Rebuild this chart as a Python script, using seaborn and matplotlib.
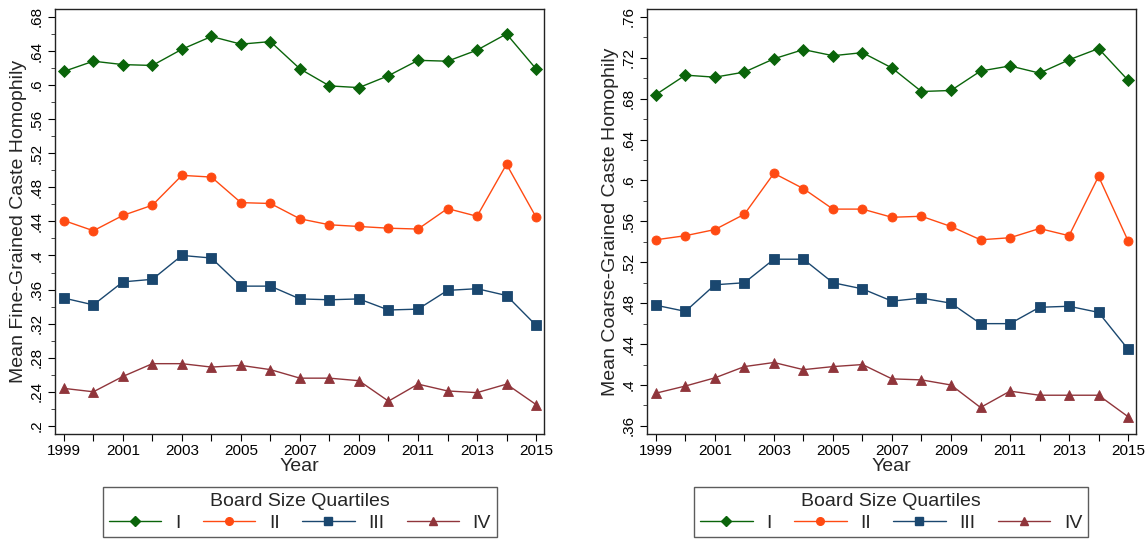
import numpy as np
import pandas as pd
import matplotlib
matplotlib.use("Agg")
import matplotlib.pyplot as plt
from matplotlib.lines import Line2D
from matplotlib.ticker import FuncFormatter, MultipleLocator
import seaborn as sns

years = list(range(1999, 2016))
quartiles = ["I", "II", "III", "IV"]

fine_I = [0.616, 0.628, 0.624, 0.623, 0.642, 0.657, 0.648, 0.651, 0.619,
          0.599, 0.597, 0.611, 0.629, 0.628, 0.641, 0.660, 0.619]
fine_II = [0.441, 0.429, 0.447, 0.459, 0.494, 0.492, 0.462, 0.461, 0.443,
           0.436, 0.434, 0.432, 0.431, 0.455, 0.446, 0.507, 0.445]
fine_III = [0.350, 0.342, 0.369, 0.372, 0.400, 0.397, 0.364, 0.364, 0.349,
            0.348, 0.349, 0.336, 0.337, 0.359, 0.361, 0.353, 0.318]
fine_IV = [0.244, 0.240, 0.258, 0.273, 0.273, 0.269, 0.271, 0.266, 0.256,
           0.256, 0.253, 0.229, 0.249, 0.241, 0.239, 0.249, 0.225]

coarse_I = [0.684, 0.703, 0.701, 0.706, 0.719, 0.728, 0.722, 0.725, 0.710,
            0.687, 0.688, 0.707, 0.712, 0.705, 0.718, 0.729, 0.698]
coarse_II = [0.542, 0.546, 0.552, 0.567, 0.607, 0.592, 0.572, 0.572, 0.564,
             0.565, 0.555, 0.542, 0.544, 0.553, 0.546, 0.604, 0.541]
coarse_III = [0.478, 0.472, 0.498, 0.500, 0.523, 0.523, 0.500, 0.494, 0.482,
              0.485, 0.480, 0.460, 0.460, 0.476, 0.477, 0.471, 0.435]
coarse_IV = [0.392, 0.399, 0.407, 0.418, 0.422, 0.415, 0.418, 0.420, 0.406,
             0.405, 0.400, 0.378, 0.394, 0.390, 0.390, 0.390, 0.369]

colors = {"I": "#0a640a", "II": "#ff4a12", "III": "#1a476f", "IV": "#90353b"}
markers = {"I": "D", "II": "o", "III": "s", "IV": "^"}
msizes = {"I": 6.2, "II": 6.5, "III": 6.5, "IV": 7.0}


def long_frame(series):
    rows = []
    for q, vals in zip(quartiles, series):
        for y, v in zip(years, vals):
            rows.append({"Year": y, "value": v, "Quartile": q})
    return pd.DataFrame(rows)


fine_df = long_frame([fine_I, fine_II, fine_III, fine_IV])
coarse_df = long_frame([coarse_I, coarse_II, coarse_III, coarse_IV])

sns.set_theme(style="white")
plt.rcParams["font.family"] = ["Liberation Sans", "DejaVu Sans"]

fig = plt.figure(figsize=(11.46, 5.41), dpi=100)
ax1 = fig.add_axes([0.048, 0.198, 0.4267, 0.7856])
ax2 = fig.add_axes([0.5646, 0.198, 0.4267, 0.7856])


def stata_fmt(v, pos):
    s = f"{v:.2f}".rstrip("0").rstrip(".")
    if s.startswith("0"):
        s = s[1:]
    return s


panels = [
    (ax1, fine_df, "Mean Fine-Grained Caste Homophily", (0.1906, 0.6894), 0.2, 0.68),
    (ax2, coarse_df, "Mean Coarse-Grained Caste Homophily", (0.3522, 0.7678), 0.36, 0.76),
]

for ax, df, ylabel, ylim, lo, hi in panels:
    for q in quartiles:
        sub = df[df["Quartile"] == q]
        sns.lineplot(data=sub, x="Year", y="value", ax=ax, color=colors[q],
                     marker=markers[q], markersize=msizes[q], markeredgewidth=0.6,
                     markeredgecolor=colors[q], linewidth=1.0, legend=False)
    ax.set_xlim(1998.7, 2015.27)
    ax.set_ylim(*ylim)
    ax.set_yticks(np.round(np.arange(lo, hi + 1e-9, 0.04), 2))
    ax.yaxis.set_minor_locator(MultipleLocator(0.02))
    ax.yaxis.set_major_formatter(FuncFormatter(stata_fmt))
    ax.set_xticks(years)
    ax.set_xticklabels([str(y) if y % 2 == 1 else "" for y in years])
    ax.tick_params(axis="y", which="major", direction="out", length=5, width=0.8,
                   left=True, labelsize=11, colors="black", pad=3)
    ax.tick_params(axis="y", which="minor", direction="out", length=3, width=0.6,
                   left=True)
    ax.tick_params(axis="x", which="major", direction="out", length=5, width=0.8,
                   bottom=True, labelsize=11, colors="black", pad=2)
    for lab in ax.get_yticklabels():
        lab.set_rotation(90)
        lab.set_va("center")
    for sp in ax.spines.values():
        sp.set_color("#222222")
        sp.set_linewidth(1.0)
    ax.set_xlabel("Year", fontsize=14, labelpad=0)
    ax.set_ylabel(ylabel, fontsize=14, labelpad=2)
    ax.grid(False)

handles = [Line2D([0], [0], color=colors[q], marker=markers[q], markersize=msizes[q] - 1.0,
                  markeredgecolor=colors[q], linewidth=1.0) for q in quartiles]

for cx in (0.2618, 0.7777):
    leg = fig.legend(handles, quartiles, loc="center", bbox_to_anchor=(cx, 0.053),
                     ncol=4, title="Board Size Quartiles", title_fontsize=14,
                     fontsize=14, frameon=True, fancybox=False, handlelength=2.7,
                     handletextpad=0.7, columnspacing=1.15, borderpad=0.3,
                     labelspacing=0.2, borderaxespad=0)
    leg.get_frame().set_edgecolor("#333333")
    leg.get_frame().set_linewidth(1.0)

fig.savefig("out.png", dpi=100)
